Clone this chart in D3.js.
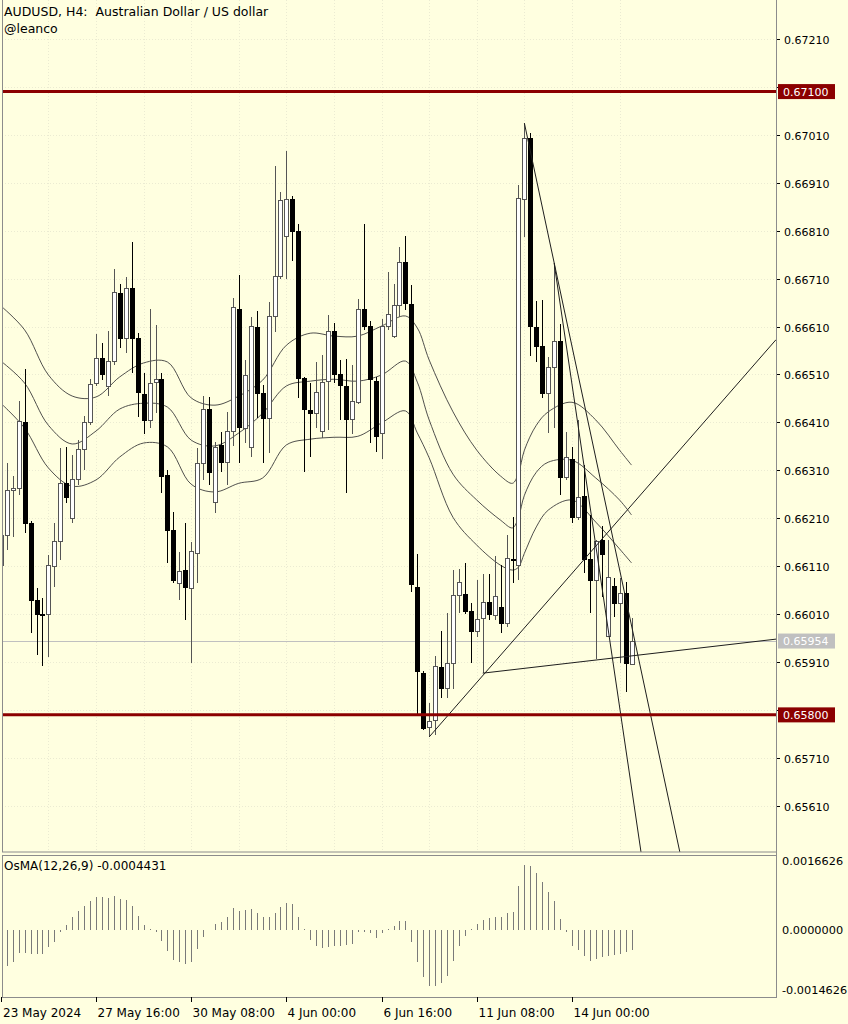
<!DOCTYPE html>
<html><head><meta charset="utf-8">
<script src="https://cdn.jsdelivr.net/npm/d3@7"></script>
<style>body{margin:0;background:#ffffe0;} svg{display:block} text{font-family:"DejaVu Sans",sans-serif;}</style>
</head><body>
<svg id="c" width="848" height="1024"></svg>
<script>
// ---------- DATA ----------
const opens = [0.66112,0.66175,0.66267,0.66273,0.66411,0.66200,0.66039,0.66010,0.66010,0.66110,
0.66162,0.66283,0.66210,0.66290,0.66354,0.66409,0.66492,0.66544,0.66484,0.66536,
0.66680,0.66586,0.66690,0.66586,0.66469,0.66413,0.66494,0.66500,0.66300,0.66185,
0.66075,0.66102,0.66064,0.66137,0.66325,0.66438,0.66242,0.66363,0.66327,0.66390,
0.66646,0.66398,0.66358,0.66609,0.66471,0.66419,0.66630,0.66715,0.66797,0.66876,
0.66809,0.66502,0.66436,0.66429,0.66390,0.66496,0.66600,0.66511,0.66486,0.66417,
0.66452,0.66646,0.66611,0.66496,0.66386,0.66609,0.66590,0.66653,0.66744,0.66657,
0.66066,0.65887,0.65774,0.65789,0.65900,0.65854,0.65908,0.66048,0.66052,0.66016,
0.65973,0.66000,0.66035,0.66008,0.66025,0.65991,0.66125,0.66112,0.66874,0.67003,
0.66609,0.66569,0.66471,0.66525,0.66580,0.66296,0.66333,0.66212,0.66256,0.66125,
0.66081,0.66165,0.65964,0.66069,0.66033,0.66054,0.65906];
const highs = [0.66185,0.66325,0.66298,0.66454,0.66521,0.66204,0.66064,0.66044,0.66133,0.66200,
0.66356,0.66358,0.66342,0.66373,0.66423,0.66500,0.66594,0.66575,0.66600,0.66730,
0.66699,0.66713,0.66786,0.66596,0.66513,0.66646,0.66613,0.66513,0.66311,0.66223,
0.66140,0.66200,0.66160,0.66356,0.66465,0.66463,0.66369,0.66390,0.66432,0.66669,
0.66717,0.66540,0.66630,0.66642,0.66488,0.66661,0.66945,0.66890,0.66976,0.66882,
0.66824,0.66505,0.66492,0.66536,0.66550,0.66634,0.66617,0.66540,0.66542,0.66530,
0.66667,0.66824,0.66621,0.66505,0.66626,0.66724,0.66699,0.66776,0.66799,0.66696,
0.66135,0.65891,0.65824,0.65923,0.65975,0.66012,0.66102,0.66104,0.66117,0.66033,
0.66081,0.66094,0.66094,0.66131,0.66112,0.66175,0.66212,0.66905,0.67034,0.67014,
0.66663,0.66665,0.66546,0.66742,0.66615,0.66390,0.66358,0.66415,0.66321,0.66217,
0.66165,0.66194,0.66165,0.66085,0.66085,0.66077,0.66002];
const lows = [0.66106,0.66144,0.66171,0.66258,0.66179,0.65971,0.65925,0.65902,0.65920,0.66066,
0.66123,0.66242,0.66200,0.66279,0.66311,0.66404,0.66486,0.66498,0.66465,0.66530,
0.66565,0.66555,0.66513,0.66421,0.66386,0.66398,0.66429,0.66263,0.66117,0.66075,
0.66039,0.65998,0.65908,0.66075,0.66290,0.66279,0.66221,0.66306,0.66279,0.66361,
0.66325,0.66367,0.66338,0.66419,0.66325,0.66346,0.66598,0.66709,0.66709,0.66747,
0.66461,0.66306,0.66338,0.66398,0.66377,0.66394,0.66492,0.66415,0.66263,0.66386,
0.66448,0.66603,0.66367,0.66348,0.66333,0.66603,0.66586,0.66630,0.66644,0.66056,
0.65800,0.65768,0.65754,0.65758,0.65835,0.65835,0.65854,0.66012,0.66010,0.65908,
0.65962,0.65887,0.65998,0.65998,0.65971,0.65983,0.66075,0.66081,0.66797,0.66548,
0.66536,0.66461,0.66388,0.66398,0.66258,0.66290,0.66200,0.66206,0.66096,0.66012,
0.65916,0.66046,0.65962,0.66004,0.65908,0.65848,0.65904];
const closes = [0.66175,0.66269,0.66273,0.66411,0.66200,0.66039,0.66010,0.66008,0.66112,0.66162,
0.66283,0.66254,0.66290,0.66354,0.66409,0.66490,0.66544,0.66509,0.66538,0.66680,
0.66586,0.66690,0.66586,0.66473,0.66413,0.66492,0.66500,0.66298,0.66185,0.66081,
0.66100,0.66066,0.66140,0.66325,0.66436,0.66306,0.66358,0.66327,0.66390,0.66649,
0.66400,0.66507,0.66609,0.66471,0.66419,0.66630,0.66715,0.66872,0.66874,0.66809,
0.66502,0.66436,0.66429,0.66473,0.66494,0.66600,0.66509,0.66486,0.66417,0.66454,
0.66646,0.66611,0.66500,0.66381,0.66609,0.66636,0.66653,0.66744,0.66657,0.66071,
0.65891,0.65772,0.65787,0.65900,0.65854,0.65908,0.66048,0.66077,0.66016,0.65973,
0.65998,0.66035,0.66010,0.66046,0.65991,0.66127,0.66121,0.66876,0.67003,0.66609,
0.66569,0.66471,0.66525,0.66578,0.66296,0.66336,0.66212,0.66254,0.66125,0.66081,
0.66162,0.66135,0.66087,0.66033,0.66054,0.65908,0.65954];

// envelope bands (sampled at bar indices)
const bandIdx   = [0,4,8,12,16,20,24,28,32,36,40,44,48,52,56,60,64,68,70,72,76,80,84,86,87,88,90,92,96,100,104,106];
const bandUpper = [0.66653,0.66603,0.66509,0.66465,0.66463,0.66505,0.66534,0.66536,0.66461,0.66446,0.66465,0.66498,0.66571,0.66596,0.66590,0.66590,0.66611,0.66632,0.66607,0.66540,0.66432,0.66352,0.66298,0.66283,0.66304,0.66352,0.66404,0.66432,0.66452,0.66415,0.66352,0.66321];
const bandMid   = [0.66538,0.66492,0.66404,0.66365,0.66392,0.66438,0.66450,0.66442,0.66373,0.66361,0.66388,0.66429,0.66486,0.66496,0.66500,0.66496,0.66509,0.66538,0.66494,0.66415,0.66302,0.66248,0.66206,0.66190,0.66212,0.66258,0.66306,0.66327,0.66331,0.66294,0.66248,0.66217];
const bandLower = [0.66450,0.66398,0.66315,0.66277,0.66290,0.66338,0.66367,0.66359,0.66281,0.66265,0.66283,0.66294,0.66363,0.66375,0.66379,0.66381,0.66409,0.66434,0.66388,0.66336,0.66212,0.66154,0.66112,0.66102,0.66108,0.66137,0.66192,0.66227,0.66248,0.66202,0.66146,0.66117];

// OsMA(12,26,9) histogram, one value per bar
const osma = [-0.00082,-0.000815,-0.000725,-0.000521,-0.000521,-0.000537,-0.000544,-0.000537,-0.000385,-0.000258,
-0.000032,0.000120,0.000294,0.000430,0.000557,0.000670,0.000761,0.000747,0.000725,0.000777,
0.000709,0.000686,0.000557,0.000331,0.000120,0.000029,-0.000045,-0.000236,-0.000462,-0.000673,
-0.000725,-0.000763,-0.000725,-0.000424,-0.000159,0.000007,0.000143,0.000195,0.000294,0.000505,
0.000444,0.000460,0.000482,0.000385,0.000294,0.000308,0.000385,0.000521,0.000618,0.000589,
0.000294,0.000029,-0.000220,-0.000362,-0.000401,-0.000371,-0.000349,-0.000349,-0.000333,-0.000310,
-0.000045,-0.000032,-0.000061,-0.000168,-0.000068,0.000029,0.000104,0.000217,0.000217,-0.000258,
-0.000711,-0.001065,-0.001268,-0.001255,-0.001200,-0.001042,-0.000689,-0.000349,-0.000122,0.000029,
0.000143,0.000233,0.000272,0.000294,0.000294,0.000385,0.000408,0.001010,0.001479,0.001450,
0.001298,0.001087,0.000861,0.000670,0.000256,-0.000045,-0.000349,-0.000439,-0.000575,-0.000689,
-0.000650,-0.000612,-0.000575,-0.000559,-0.000537,-0.000498,-0.0004431];
const osmaMax = 0.0016626, osmaMin = -0.0014626;
const osmaLabels = ["0.0016626","0.0000000","-0.0014626"];

// price axis ticks
const priceTicks = [0.65610,0.65710,0.65810,0.65910,0.66010,0.66110,0.66210,0.66310,0.66410,0.66510,0.66610,0.66710,0.66810,0.66910,0.67010,0.67110,0.67210];
// time axis
const timeIdx = [0,16,32,48,64,80,96];
const timeLabels = ["23 May 2024","27 May 16:00","30 May 08:00","4 Jun 00:00","6 Jun 16:00","11 Jun 08:00","14 Jun 00:00"];

// horizontal levels
const levels = [0.67100, 0.65800];
const lastPrice = 0.65954;

// trend lines (ray to the right): start/end anchors
const trendStartBar = [72, 81, 88, 93];
const trendStartPrice = [0.65754, 0.65887, 0.67034, 0.66742];
const trendEndBar = [100, 106, 104, 101];
const trendEndPrice = [0.66152, 0.65923, 0.66103, 0.66069];

// ---------- LAYOUT ----------
const svg = d3.select("#c");
const axisX = 776, mainTop = 0, mainBottom = 852, subTop = 855, subBottom = 997, leftX = 2;
const bg = "#ffffe0", frame = "#8c8c8c";

svg.append("rect").attr("width",848).attr("height",1024).attr("fill",bg);

const x = d3.scaleLinear().domain([0, 106]).range([0.8, 631.5]);
const y = d3.scaleLinear().domain([0.65514, 0.67291]).range([mainBottom, mainTop]);
const yo = d3.scaleLinear().domain([osmaMin, osmaMax]).range([995, 857]);

svg.append("clipPath").attr("id","mainClip").append("rect")
  .attr("x",leftX).attr("y",mainTop).attr("width",axisX-leftX).attr("height",mainBottom-mainTop);

const main = svg.append("g").attr("clip-path","url(#mainClip)");

// grid
const gridColor = "#ebebd2";
const gridX = d3.range(0, 107, 8);
main.selectAll(".gx").data(gridX).enter().append("line")
  .attr("x1",d=>Math.round(x(d))+0.5).attr("x2",d=>Math.round(x(d))+0.5)
  .attr("y1",mainTop).attr("y2",mainBottom)
  .attr("stroke",gridColor).attr("stroke-dasharray","1,2");
main.selectAll(".gy").data(priceTicks).enter().append("line")
  .attr("x1",leftX).attr("x2",axisX)
  .attr("y1",d=>Math.round(y(d))+0.5).attr("y2",d=>Math.round(y(d))+0.5)
  .attr("stroke",gridColor).attr("stroke-dasharray","1,2");

// current price line
main.append("line").attr("x1",leftX).attr("x2",axisX)
  .attr("y1",Math.round(y(lastPrice))+0.5).attr("y2",Math.round(y(lastPrice))+0.5)
  .attr("stroke","#c0c0c0").attr("stroke-width",1);

// bands
const bandLine = arr => d3.line().x((d,i)=>x(bandIdx[i])).y(d=>y(d)).curve(d3.curveCatmullRom.alpha(0.5))(arr);
[bandUpper, bandMid, bandLower].forEach(arr=>{
  main.append("path").attr("d",bandLine(arr)).attr("fill","none")
    .attr("stroke","#3c3c3c").attr("stroke-width",0.9);
});

// candles
const bars = opens.map((o,i)=>({i,o,h:highs[i],l:lows[i],c:closes[i]}));
const cg = main.append("g").attr("shape-rendering","crispEdges");
bars.forEach(b=>{
  const cx = Math.round(x(b.i)) + 0.5;
  const bull = b.c >= b.o;
  const col = bull ? "#555555" : "#000000";
  cg.append("line").attr("x1",cx).attr("x2",cx)
    .attr("y1",y(b.h)).attr("y2",y(b.l)).attr("stroke",col).attr("stroke-width",1);
  const top = y(Math.max(b.o,b.c)), bot = y(Math.min(b.o,b.c));
  const hgt = Math.max(1, bot-top);
  if (bull) {
    cg.append("rect").attr("x",cx-2).attr("y",top).attr("width",4).attr("height",hgt)
      .attr("fill","#ffffff").attr("stroke","#555555").attr("stroke-width",1);
  } else {
    cg.append("rect").attr("x",cx-2.5).attr("y",top).attr("width",5).attr("height",hgt+0.5)
      .attr("fill","#000000");
  }
});

// trend lines
trendStartBar.forEach((sb,k)=>{
  const x1 = x(sb), y1 = y(trendStartPrice[k]);
  const x2 = x(trendEndBar[k]), y2 = y(trendEndPrice[k]);
  const slope = (y2-y1)/(x2-x1);
  const xe = axisX, ye = y1 + slope*(xe-x1);
  main.append("line").attr("x1",x1).attr("y1",y1).attr("x2",xe).attr("y2",ye)
    .attr("stroke","#1e1e1e").attr("stroke-width",1);
});

// level lines
levels.forEach(p=>{
  main.append("line").attr("x1",leftX).attr("x2",axisX)
    .attr("y1",y(p)).attr("y2",y(p)).attr("stroke","#8b0000").attr("stroke-width",3);
});

// frames
svg.append("rect").attr("x",leftX+0.5).attr("y",mainTop-0.5).attr("width",axisX-leftX).attr("height",mainBottom-mainTop+0.5)
  .attr("fill","none").attr("stroke",frame);
svg.append("rect").attr("x",leftX+0.5).attr("y",subTop+0.5).attr("width",axisX-leftX).attr("height",subBottom-subTop)
  .attr("fill","none").attr("stroke",frame);

// price axis
const pa = svg.append("g");
const tagged = levels.concat([lastPrice]);
priceTicks.forEach(p=>{
  const yy = Math.round(y(p))+0.5;
  pa.append("line").attr("x1",axisX).attr("x2",axisX+4).attr("y1",yy).attr("y2",yy).attr("stroke","#000");
  const hidden = tagged.some(t => Math.abs(y(t)-y(p)) < 12);
  if (!hidden)
    pa.append("text").attr("x",784).attr("y",yy+4).attr("font-size",11).attr("fill","#000").text(d3.format(".5f")(p));
});
// level labels
function tag(p, fill, txtColor){
  const yy = y(p);
  pa.append("rect").attr("x",778).attr("y",yy-7.5).attr("width",57).attr("height",15).attr("fill",fill);
  pa.append("text").attr("x",783).attr("y",yy+4).attr("font-size",11).attr("fill",txtColor).text(d3.format(".5f")(p));
}
levels.forEach(p=>tag(p,"#8b0000","#ffffff"));
tag(lastPrice,"#c0c0c0","#ffffff");

// OsMA histogram
const og = svg.append("g").attr("shape-rendering","crispEdges");
osma.forEach((v,i)=>{
  const cx = Math.round(x(i))+0.5;
  if (cx < leftX+2) return;
  og.append("line").attr("x1",cx).attr("x2",cx).attr("y1",yo(0)).attr("y2",yo(v))
    .attr("stroke","#7a7a7a").attr("stroke-width",1);
});
// OsMA axis labels
const oVals = [osmaMax, 0, osmaMin];
const oOff = [8, 4, -1];
oVals.forEach((v,k)=>{
  svg.append("text").attr("x",782).attr("y",yo(v)+oOff[k]).attr("font-size",11.3).attr("fill","#000").text(osmaLabels[k]);
});
svg.append("text").attr("x",4).attr("y",870).attr("font-size",12).attr("fill","#000")
  .text("OsMA(12,26,9) " + osma[osma.length-1].toFixed(7));

// right axis line
svg.append("line").attr("x1",axisX+0.5).attr("x2",axisX+0.5).attr("y1",0).attr("y2",subBottom+1).attr("stroke",frame);

// time axis
timeIdx.forEach((bi,k)=>{
  const tx = Math.round(x(bi))+0.5;
  svg.append("line").attr("x1",tx).attr("x2",tx).attr("y1",subBottom).attr("y2",subBottom+5).attr("stroke","#000");
  svg.append("text").attr("x",Math.max(3,tx+1)).attr("y",1017).attr("font-size",12).attr("fill","#000").text(timeLabels[k]);
});

// title
svg.append("text").attr("x",4).attr("y",16).attr("font-size",12.5).attr("fill","#000")
  .attr("xml:space","preserve").text("AUDUSD, H4:  Australian Dollar / US dollar");
svg.append("text").attr("x",4).attr("y",33).attr("font-size",12.5).attr("fill","#000").text("@leanco");
</script>
</body></html>
